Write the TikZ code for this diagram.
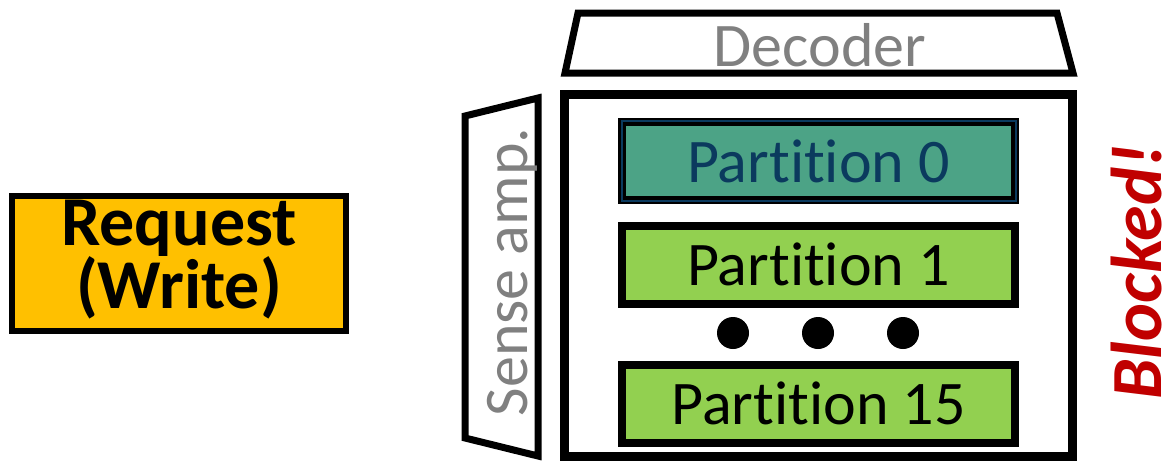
\documentclass[tikz,border=0pt]{standalone}
\usepackage{fontspec}
\setmainfont{Carlito}[Ligatures=NoCommon]
\usetikzlibrary{calc}
\definecolor{reqfill}{HTML}{FFC000}
\definecolor{p0fill}{HTML}{4CA386}
\definecolor{p0text}{HTML}{0B3A5E}
\definecolor{pfill}{HTML}{92D050}
\definecolor{labelgray}{HTML}{808080}
\definecolor{blockred}{HTML}{C00000}
\begin{document}
\begin{tikzpicture}[x=1pt,y=-1pt,
  frame/.style={draw=black,line width=#1,line join=miter},
  frame/.default=7,
  bigtext/.style={font=\fontsize{62}{70}\selectfont,inner sep=0pt},
  reqtext/.style={font=\fontsize{70}{70}\selectfont\bfseries,inner sep=0pt,anchor=base},
  partbox/.style={draw=black,line width=8,minimum width=393,minimum height=78,
    inner sep=0pt,font=\fontsize{62}{70}\selectfont}]
\useasboundingbox (0,0) rectangle (1165,463);

% request box
\node[frame=6,fill=reqfill,minimum width=334,minimum height=135,inner sep=0pt]
  (req) at (179,263.5) {};
\node[reqtext] (req1) at (179,245) {Request};
\node[reqtext] (req2) at (179,308) {(Write)};

% decoder
\draw[frame=7] (578,13) -- (1057,13) -- (1073,73) -- (565,73) -- cycle;
\node[bigtext,text=labelgray] (dec) at (820,45) {Decoder};

% sense amplifier
\draw[frame=7] (465,116) -- (538,98) -- (538,456) -- (465,438) -- cycle;
\node[bigtext,text=labelgray,rotate=90] (sa) at (512,272) {Sense amp.};

% memory bank
\draw[frame=9] (564.5,94.5) rectangle (1072.5,456.5);

% partitions
\node[partbox,fill=p0fill,text=p0text] (p0) at (818.5,161) {};
\draw[draw=p0text,line width=2.5] ($(p0.north west)+(4,3)$) rectangle ($(p0.south east)+(-3,-3)$);
\node[bigtext,text=p0text] at (p0.center) {Partition 0};
\node[partbox,fill=pfill] (p1) at (818.5,264.5) {Partition 1};
\node[partbox,fill=pfill] (p15) at (818.5,403.5) {Partition 15};

% ellipsis dots
\foreach \dx/\nm in {733/d1,818/d2,903/d3}
  \fill (\dx,333) circle[radius=16] coordinate (\nm);

% status
\node[font=\fontsize{72}{80}\selectfont\bfseries\itshape,text=blockred,
  rotate=90,inner sep=0pt,anchor=north] (blk) at (1111,272) {Blocked!};
\end{tikzpicture}
\end{document}
